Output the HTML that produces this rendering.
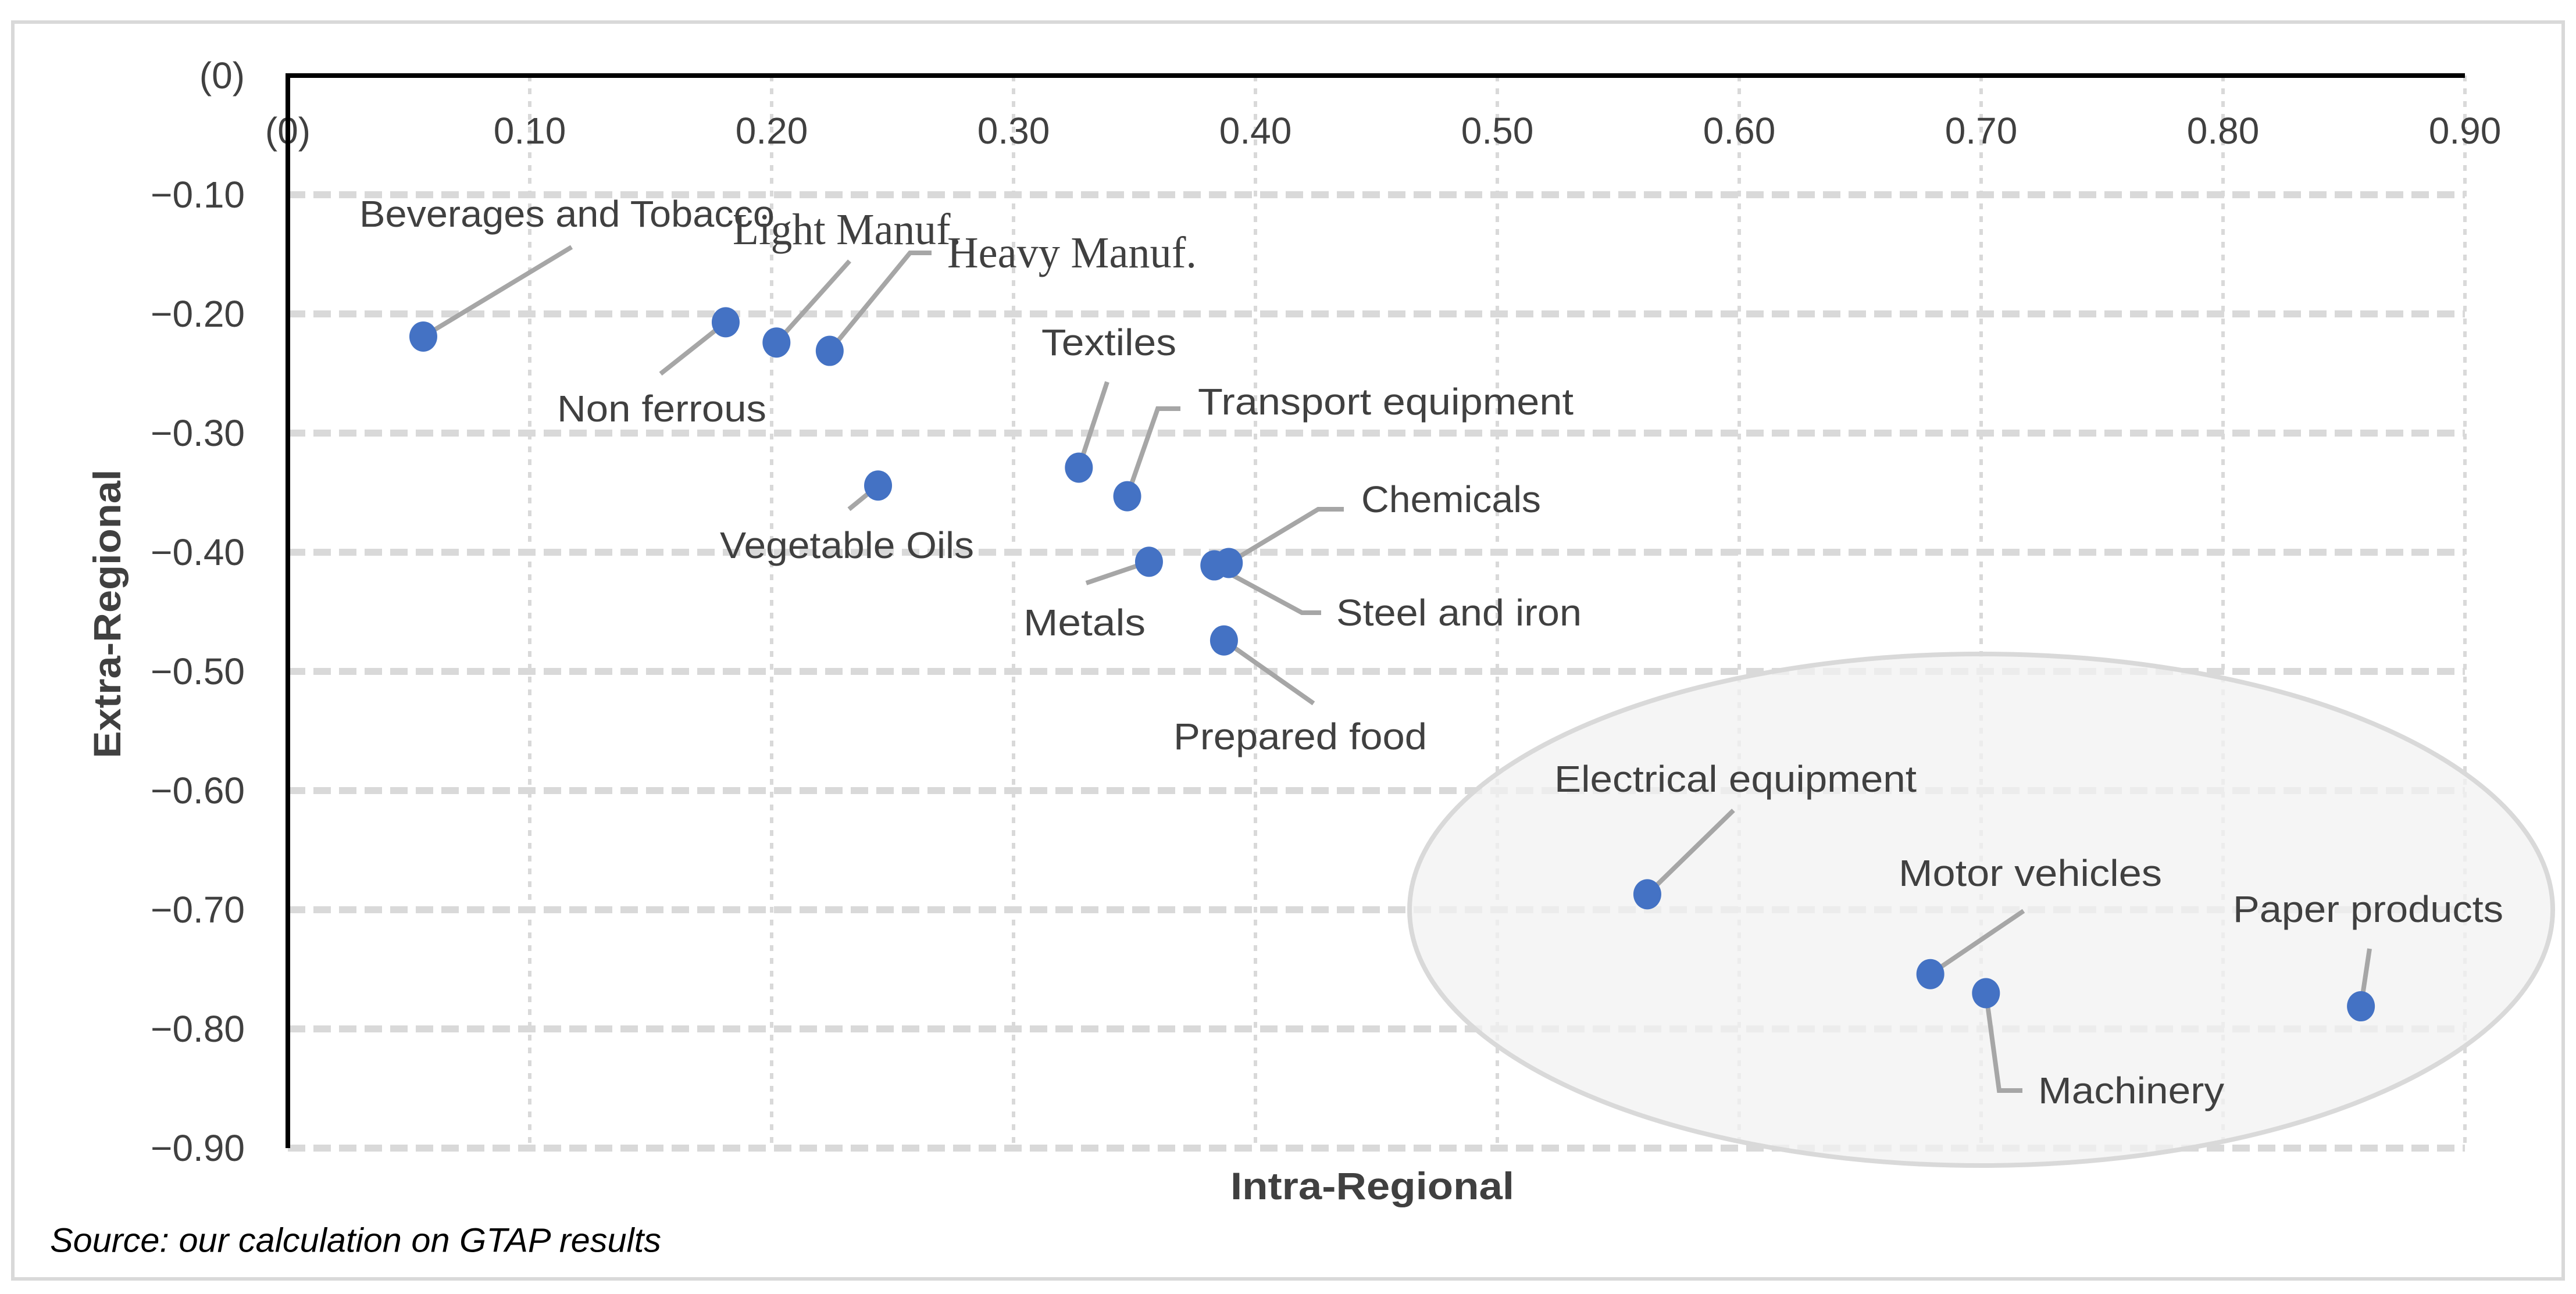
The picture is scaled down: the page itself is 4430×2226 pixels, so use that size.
<!DOCTYPE html>
<html><head><meta charset="utf-8"><style>
html,body{margin:0;padding:0;background:#fff;}
svg{display:block;}
text{font-family:"Liberation Sans",sans-serif;fill:#404040;}
</style></head><body>
<svg id="chart" width="4430" height="2226" viewBox="0 0 4430 2226" xmlns="http://www.w3.org/2000/svg">
<rect x="22" y="38" width="4386" height="2162" fill="#fff" stroke="#d9d9d9" stroke-width="6"/>
<g id="grid"></g>
<ellipse cx="3407" cy="1565" rx="983" ry="440" fill="#f2f2f2" fill-opacity="0.75" stroke="#d9d9d9" stroke-width="8"/>
<g id="axes"></g>
<g id="leaders"></g>
<g id="points"></g>
<g id="labels"></g>
<text transform="translate(184,1056) rotate(-90)" text-anchor="middle" dominant-baseline="central" font-size="66" font-weight="bold" textLength="497" lengthAdjust="spacingAndGlyphs">Extra-Regional</text>
<text x="2360" y="2040" text-anchor="middle" dominant-baseline="central" font-size="66" font-weight="bold" textLength="488" lengthAdjust="spacingAndGlyphs">Intra-Regional</text>
<text x="86" y="2134" dominant-baseline="central" font-size="58" font-style="italic" fill="#000" style="fill:#000" textLength="1051" lengthAdjust="spacingAndGlyphs">Source: our calculation on GTAP results</text>
</svg>
<script>
const categories = ["Beverages and Tobacco","Non ferrous","Light Manuf.","Heavy Manuf.","Vegetable Oils","Textiles","Transport equipment","Metals","Steel and iron","Chemicals","Prepared food","Electrical equipment","Motor vehicles","Machinery","Paper products"];
const intraValues = [0.056,0.181,0.202,0.224,0.244,0.327,0.347,0.356,0.383,0.389,0.387,0.562,0.679,0.702,0.857];
const extraValues = [-0.219,-0.207,-0.224,-0.231,-0.344,-0.329,-0.353,-0.408,-0.411,-0.409,-0.474,-0.687,-0.754,-0.770,-0.781];
const xTickValues = [0,0.1,0.2,0.3,0.4,0.5,0.6,0.7,0.8,0.9];
const xTickLabels = ["(0)","0.10","0.20","0.30","0.40","0.50","0.60","0.70","0.80","0.90"];
const yTickValues = [0,-0.1,-0.2,-0.3,-0.4,-0.5,-0.6,-0.7,-0.8,-0.9];
const yTickLabels = ["(0)","\u22120.10","\u22120.20","\u22120.30","\u22120.40","\u22120.50","\u22120.60","\u22120.70","\u22120.80","\u22120.90"];
// label layout (annotation placement): [textX, textY(center), width, leaderX, leaderY, elbowX or null, serif]
const labelLayout = [
 [618,368,714,983,425,null,false],
 [958,703,360,1136,643,null,false],
 [1260,395,393,1461,449,null,true],
 [1629,435,429,1565,435,1602,true],
 [1238,938,437,1460,876,null,false],
 [1791,589,232,1904,657,null,false],
 [2060,691,646,1991,703,2030,false],
 [1760,1071,210,1868,1003,null,false],
 [2298,1054,422,2239,1054,2272,false],
 [2341,859,309,2267,876,2311,false],
 [2018,1267,436,2259,1210,null,false],
 [2673,1340,623,2981,1394,null,false],
 [3265,1502,453,3480,1567,null,false],
 [3505,1876,320,3438,1876,3478,false],
 [3840,1564,465,4075,1632,null,false]
];
const NS="http://www.w3.org/2000/svg";
const X0=495, XS=4160, Y0=130, YS=2050;
function xs(v){return X0+v*XS;}
function ys(v){return Y0-v*YS;}
function mk(tag,attrs,parent){const e=document.createElementNS(NS,tag);for(const k in attrs)e.setAttribute(k,attrs[k]);parent.appendChild(e);return e;}
const grid=document.getElementById('grid'),axes=document.getElementById('axes'),leaders=document.getElementById('leaders'),points=document.getElementById('points'),labels=document.getElementById('labels');
xTickValues.forEach((v,i)=>{
  if(i>0){const l=mk('line',{x1:xs(v),x2:xs(v),y1:ys(0),y2:ys(-0.9),stroke:'#d9d9d9','stroke-width':6,'stroke-dasharray':'10 12'},grid);
  
  }
  const t=mk('text',{x:xs(v),y:225,'text-anchor':'middle','dominant-baseline':'central','font-size':64},axes);
  t.textContent=xTickLabels[i];
  
  
});
yTickValues.forEach((v,i)=>{
  if(i>0){const l=mk('line',{x1:xs(0),x2:xs(0.9),y1:ys(v),y2:ys(v),stroke:'#d9d9d9','stroke-width':12,'stroke-dasharray':'30 14'},grid);
  
  }
  const t=mk('text',{x:421,y:ys(v),'text-anchor':'end','dominant-baseline':'central','font-size':64},axes);
  t.textContent=yTickLabels[i];
  
  
});
const ya=mk('line',{x1:xs(0),x2:xs(0),y1:ys(0)-4,y2:ys(-0.9),stroke:'#000','stroke-width':8},axes);


const xa=mk('line',{x1:xs(0)-4,x2:xs(0.9),y1:ys(0),y2:ys(0),stroke:'#000','stroke-width':8},axes);


categories.forEach((c,i)=>{
  const px=xs(intraValues[i]), py=ys(extraValues[i]);
  const L=labelLayout[i];
  let pts=px+','+py+' '+L[3]+','+L[4];
  if(L[5]!==null) pts+=' '+L[5]+','+L[4];
  const pl=mk('polyline',{points:pts,fill:'none',stroke:'#a6a6a6','stroke-width':8},leaders);
  
  
  const e=mk('ellipse',{cx:px,cy:py,rx:24,ry:26,fill:'#4472c4'},points);
  
  
  const t=mk('text',{x:L[0],y:L[1],'dominant-baseline':'central','font-size':L[6]?76:64,textLength:L[2],lengthAdjust:'spacingAndGlyphs'},labels);
  if(L[6]) t.style.fontFamily='"Liberation Serif",serif';
  t.textContent=c;
  
  
});
</script>
</body></html>
